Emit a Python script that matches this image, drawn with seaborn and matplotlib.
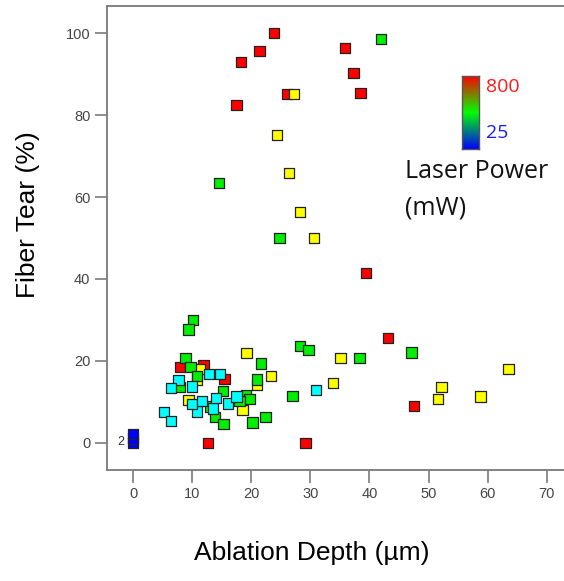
import numpy as np
import pandas as pd
import matplotlib
matplotlib.use("Agg")
import matplotlib.pyplot as plt
from matplotlib.colors import LinearSegmentedColormap
import seaborn as sns

# ---- data ----
red_x = [23.9, 21.4, 18.3, 35.9, 37.3, 38.5, 26.0, 17.5, 39.4, 43.1, 47.5, 12.7, 29.2, 8.0, 11.9, 15.5]
red_y = [100.0, 95.6, 92.9, 96.3, 90.2, 85.4, 85.1, 82.4, 41.5, 25.6, 9.0, 0.0, 0.0, 18.5, 19.0, 15.6]

yellow_x = [27.2, 24.4, 26.4, 28.2, 30.6, 35.1, 33.8, 51.6, 52.2, 58.8, 63.5, 19.2, 23.3, 9.4, 18.5, 21.0, 11.3, 10.8]
yellow_y = [85.1, 75.1, 65.9, 56.3, 50.0, 20.7, 14.6, 10.8, 13.6, 11.3, 18.1, 22.0, 16.3, 10.4, 8.0, 14.1, 18.0, 15.5]

green_x = [41.9, 14.6, 24.8, 38.3, 47.1, 28.2, 29.7, 27.0, 10.2, 9.4, 8.9, 9.7, 10.8, 7.9, 21.6, 21.0,
           15.2, 19.1, 19.7, 18.0, 13.9, 15.3, 20.2, 22.4, 13.1]
green_y = [98.5, 63.4, 50.0, 20.7, 22.1, 23.7, 22.6, 11.5, 30.0, 27.7, 20.7, 18.5, 16.3, 13.7, 19.4, 15.5,
           12.6, 11.7, 10.8, 10.2, 6.4, 4.6, 5.0, 6.4, 8.9]

cyan_x = [7.7, 6.4, 10.0, 12.9, 14.7, 5.3, 6.4, 10.8, 10.0, 11.7, 13.5, 14.0, 16.1, 17.5, 31.0]
cyan_y = [15.3, 13.4, 13.8, 16.8, 16.8, 7.5, 5.4, 7.7, 9.5, 10.3, 8.4, 11.0, 9.6, 11.3, 12.9]

blue_x = [0.0, 0.0, 0.0]
blue_y = [0.0, 1.1, 2.1]

group_powers = ["800", "600", "400", "200", "25"]
x_ticks = [0, 10, 20, 30, 40, 50, 60, 70]
y_ticks = [0, 20, 40, 60, 80, 100]

palette = {"800": "#ff0000", "600": "#ffff00", "400": "#00ee00", "200": "#00ffff", "25": "#0000ff"}

frames = []
for p, xs, ys in zip(group_powers,
                     [red_x, yellow_x, green_x, cyan_x, blue_x],
                     [red_y, yellow_y, green_y, cyan_y, blue_y]):
    frames.append(pd.DataFrame({"depth": xs, "tear": ys, "power": p}))
df = pd.concat(frames, ignore_index=True)

sns.set_style("white")
plt.rcParams["font.family"] = ["Liberation Sans", "DejaVu Sans"]

fig = plt.figure(figsize=(5.64, 5.81), dpi=100)
ax = fig.add_axes([107 / 564, 111 / 581, 457 / 564, 464 / 581])

sns.scatterplot(data=df, x="depth", y="tear", hue="power", palette=palette,
                hue_order=group_powers, marker="s", s=55, edgecolor="#222222",
                linewidth=0.9, legend=False, ax=ax, zorder=3)

ax.set_xlim(-4.4, 72.9)
ax.set_ylim(-6.6, 106.6)
ax.set_xticks(x_ticks)
ax.set_yticks(y_ticks)
ax.set_xlabel("")
ax.set_ylabel("")
ax.tick_params(axis="both", direction="out", length=9, width=1.1, color="#707070",
               labelsize=10.5, labelcolor="#454545", pad=3, bottom=True, left=True)
for side in ["left", "bottom", "top"]:
    ax.spines[side].set_color("#7a7a7a")
    ax.spines[side].set_linewidth(1.3)
ax.spines["right"].set_visible(False)

ax.text(-1.5, 0.2, "2", fontsize=9, color="#333333", ha="right", va="center")

fig.text(28 / 564, 1 - 215 / 581, "Fiber Tear (%)", rotation=90, fontsize=19,
         ha="center", va="center", color="black")
fig.text(312 / 564, 1 - 553 / 581, "Ablation Depth (\u00b5m)", fontsize=19,
         ha="center", va="center", color="black")

# colour bar legend
cmap = LinearSegmentedColormap.from_list("lp", ["#0000ff", "#00ff00", "#ff0000"])
cax = fig.add_axes([462 / 564, 1 - 149 / 581, 17 / 564, 73 / 581])
cax.imshow(np.linspace(0, 1, 256)[:, None], aspect="auto", cmap=cmap, origin="lower")
cax.set_xticks([])
cax.set_yticks([])
for s in cax.spines.values():
    s.set_color("#555555")
    s.set_linewidth(1)

fig.text(486 / 564, 1 - 87 / 581, "800", fontsize=14, color="#ff1a1a", ha="left", va="center",
         family=["Open Sans", "DejaVu Sans"])
fig.text(486 / 564, 1 - 133 / 581, "25", fontsize=14, color="#1a1aff", ha="left", va="center",
         family=["Open Sans", "DejaVu Sans"])
fig.text(405 / 564, 1 - 171 / 581, "Laser Power", fontsize=18, color="#111111", ha="left",
         va="center", family=["Open Sans", "DejaVu Sans"])
fig.text(405 / 564, 1 - 208 / 581, "(mW)", fontsize=18, color="#111111", ha="left",
         va="center", family=["Open Sans", "DejaVu Sans"])

fig.savefig("out.png", dpi=100)
